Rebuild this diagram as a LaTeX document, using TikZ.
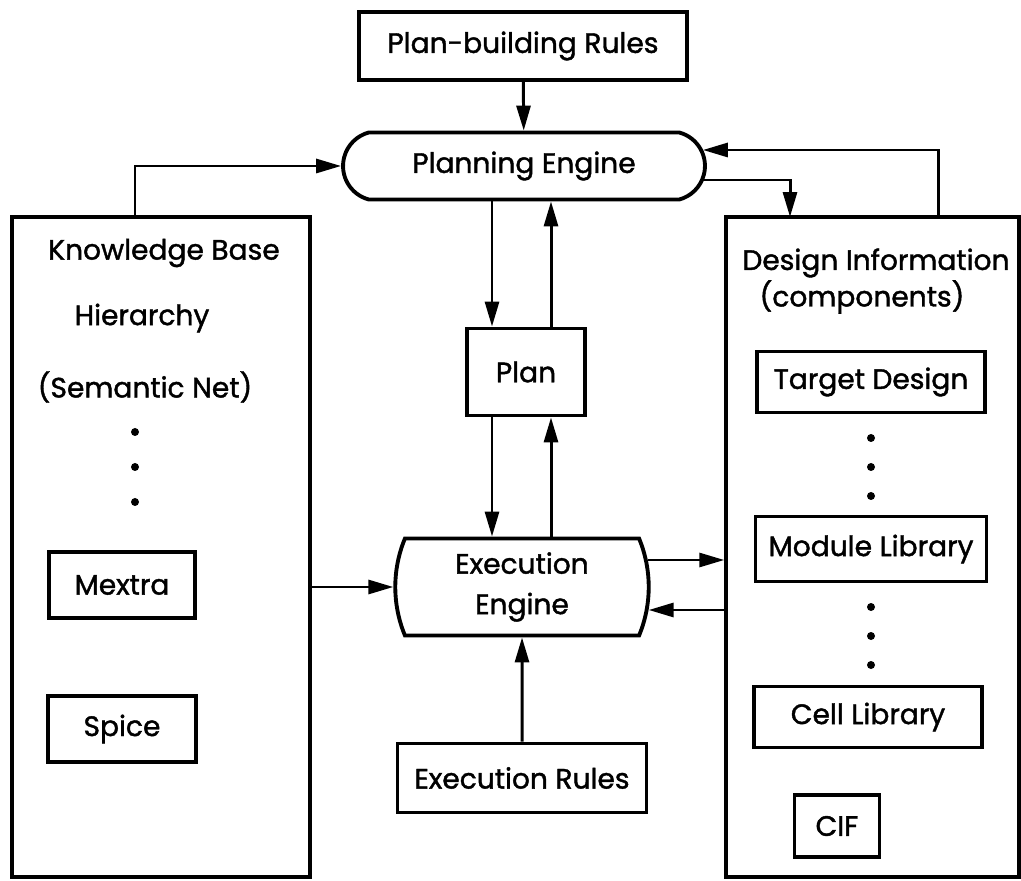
\documentclass[tikz,border=0pt]{standalone}
\usepackage{fontspec}
\setmainfont{Poppins}[FakeBold=1.4]
\usepackage{tikz}
\usetikzlibrary{
  arrows.meta,
  positioning,
  calc,
  shapes.misc
}
\newcommand{\dfont}{\fontsize{16pt}{23pt}\selectfont}
\tikzset{
  dbox/.style={
    draw,
    line width=2.2pt,
    inner sep=0pt,
    align=center,
    font=\dfont
  },
  dpanel/.style={
    draw,
    line width=2pt,
    inner sep=0pt
  },
  dengine/.style={
    draw,
    line width=2.2pt,
    rounded rectangle,
    inner sep=0pt,
    align=center,
    font=\dfont
  },
  darrow/.style={
    -{Triangle[length=0.5cm,width=0.28cm]},
    line width=1.7pt
  },
  dtext/.style={font=\dfont}
}

\begin{document}
\begin{tikzpicture}[x=0.02cm, y=-0.02cm]
  \useasboundingbox (0,0) rectangle (1021,881);

  % Planung oben
  \node[dbox, minimum width=6.56cm, minimum height=1.36cm]
    (pbr) at (523,46) {Plan-building Rules};
  \node[dengine, rounded rectangle arc length=150, minimum width=7.24cm, minimum height=1.34cm]
    (pe) at (524,166) {Planning Engine};
  \node[dbox, minimum width=2.36cm, minimum height=1.74cm]
    (plan) at (526,372) {Plan};
  \node[dengine, rounded rectangle arc length=45, minimum width=3.46cm, minimum height=1.94cm]
    (ee) at (522,587) {Execution\\Engine};
  \node[dbox, minimum width=4.98cm, minimum height=1.38cm]
    (er) at (522,778) {Execution Rules};

  % Knowledge Base (links)
  \node[dpanel, minimum width=5.96cm, minimum height=13.2cm] (kb) at (161,547) {};
  \node[dtext] (kbt) at (164,253) {Knowledge Base};
  \node[dtext] (hier) at (142,318) {Hierarchy};
  \node[dtext] (sem) at (145,387) {(Semantic Net)};
  \foreach \y in {432,467,502}
    \fill (135,\y) circle (4);
  \node[dbox, minimum width=2.92cm, minimum height=1.32cm] (mex) at (122,585) {Mextra};
  \node[dbox, minimum width=2.96cm, minimum height=1.32cm] (spi) at (122,729) {Spice};

  % Design Information (rechts)
  \node[dpanel, minimum width=5.86cm, minimum height=13.2cm] (ds) at (872.5,547) {};
  \node[dtext] (dst) at (876,263) {Design Information};
  \node[dtext] (comp) at (862,297) {(components)};
  \node[dbox, minimum width=4.56cm, minimum height=1.22cm] (td) at (871,382) {Target Design};
  \node[dbox, minimum width=4.62cm, minimum height=1.30cm] (ml) at (871,549) {Module Library};
  \node[dbox, minimum width=4.56cm, minimum height=1.22cm] (cl) at (868,717) {Cell Library};
  \node[dbox, minimum width=1.70cm, minimum height=1.24cm] (cif) at (837,826) {CIF};
  \foreach \y in {438,467,496,607,636,665}
    \fill (871,\y) circle (4);

  % Hilfspunkte
  \coordinate (kbup) at (135,217);
  \coordinate (dsup) at (938,217);
  \coordinate (dsdn) at (790,217);
  \coordinate (dncol) at (492,0);
  \coordinate (upcol) at (551,0);
  \coordinate (peout) at ($(pe.east)+(-3,14)$);
  \coordinate (pein) at ($(pe.east)+(-4,-16)$);
  \coordinate (eeout) at ($(ee.east)+(-3,-27)$);
  \coordinate (eein) at ($(ee.east)+(-2,23)$);

  % Verbindungen
  \draw[darrow] (pbr) -- (pe);
  \draw[darrow] (kbup) |- (pe.west);
  \draw[darrow] (peout) -| (dsdn);
  \draw[darrow] (dsup) |- (pein);
  \draw[darrow] (pe.south -| dncol) -- (plan.north -| dncol);
  \draw[darrow] (plan.north -| upcol) -- (pe.south -| upcol);
  \draw[darrow] (plan.south -| dncol) -- (ee.north -| dncol);
  \draw[darrow] (ee.north -| upcol) -- (plan.south -| upcol);
  \draw[darrow] (kb.east |- ee.west) -- (ee.west);
  \draw[darrow] (eeout) -- (eeout -| ds.west);
  \draw[darrow] (ds.west |- eein) -- (eein);
  \draw[darrow] (er) -- (ee);
\end{tikzpicture}
\end{document}
